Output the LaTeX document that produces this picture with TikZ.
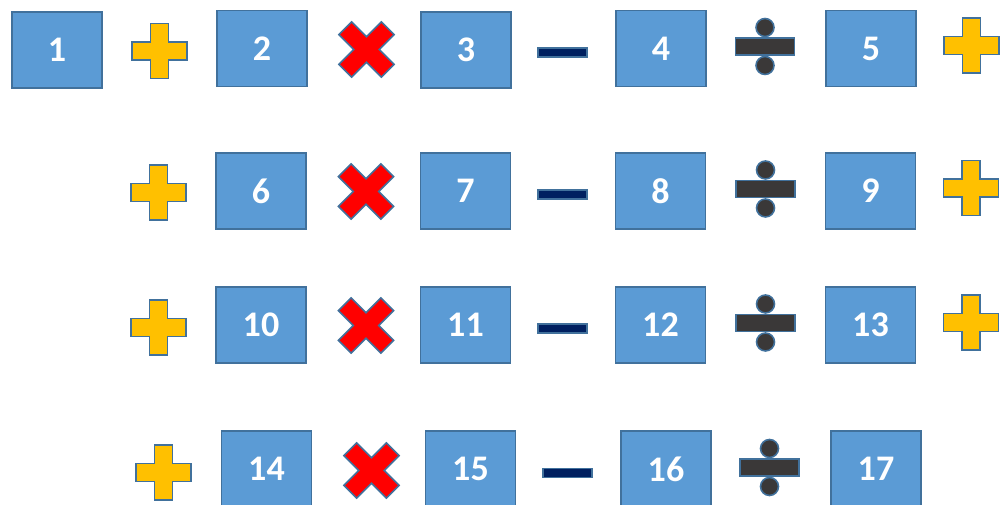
\documentclass[tikz,border=0pt]{standalone}
\usepackage{fontspec}
\setmainfont{Carlito}
\usepackage{xcolor}
\usepackage{tikz}
\definecolor{boxfill}{HTML}{5B9BD5}
\definecolor{boxline}{HTML}{41719C}
\definecolor{plusfill}{HTML}{FFC000}
\definecolor{crossfill}{HTML}{FF0000}
\definecolor{minusfill}{HTML}{002060}
\definecolor{dividefill}{HTML}{3A3838}

\begin{document}
\begin{tikzpicture}[
    x=0.2mm, y=-0.2mm,
    numbox/.style={
        draw=boxline,
        fill=boxfill,
        line width=1.1pt,
        minimum width=18mm,
        minimum height=15.2mm,
        inner sep=0pt,
        text=white,
        font=\fontsize{20.5}{24}\selectfont\bfseries
    },
    opsign/.style={draw=boxline, line width=0.9pt},
    plussign/.pic={
        \path[opsign, fill=plusfill] (27.5,9) -- (9,9) -- (9,27.5) -- (-9,27.5) -- (-9,9) -- (-27.5,9)
            -- (-27.5,-9) -- (-9,-9) -- (-9,-27.5) -- (9,-27.5) -- (9,-9) -- (27.5,-9) -- cycle;
    },
    crosssign/.pic={
        \path[opsign, fill=crossfill, rotate=45] (30,9) -- (9,9) -- (9,30) -- (-9,30) -- (-9,9) -- (-30,9)
            -- (-30,-9) -- (-9,-9) -- (-9,-30) -- (9,-30) -- (9,-9) -- (30,-9) -- cycle;
    },
    minussign/.pic={
        \path[opsign, fill=minusfill] (-24.5,-4.5) rectangle (24.5,4.5);
    },
    dividesign/.pic={
        \path[opsign, fill=dividefill] (-29.5,-8.5) rectangle (29.5,8.5);
        \path[opsign, fill=dividefill] (0,-19) circle[radius=1.8mm];
        \path[opsign, fill=dividefill] (0,19) circle[radius=1.8mm];
    }
]
\useasboundingbox (0,0) rectangle (1001,505);

% Row 1
\node[numbox] (n1) at (57,50) {1};
\pic at (159.5,51) {plussign};
\node[numbox] (n2) at (262,48.5) {2};
\pic at (366.5,49.5) {crosssign};
\node[numbox] (n3) at (466,50) {3};
\pic at (562.5,52.5) {minussign};
\node[numbox] (n4) at (661,48.5) {4};
\pic at (765,46.5) {dividesign};
\node[numbox] (n5) at (871,48.5) {5};
\pic at (971.5,45.5) {plussign};

% Row 2
\pic at (158.5,192.5) {plussign};
\node[numbox] (n6) at (261,191) {6};
\pic at (366,191.5) {crosssign};
\node[numbox] (n7) at (465.5,191) {7};
\pic at (562.5,194.5) {minussign};
\node[numbox] (n8) at (660.5,191) {8};
\pic at (765.5,189) {dividesign};
\node[numbox] (n9) at (870.5,191) {9};
\pic at (971,188) {plussign};

% Row 3
\pic at (158.5,327.5) {plussign};
\node[numbox] (n10) at (261,325) {10};
\pic at (366,325.5) {crosssign};
\node[numbox] (n11) at (465.5,325) {11};
\pic at (562.5,328.5) {minussign};
\node[numbox] (n12) at (660.5,325) {12};
\pic at (765.5,323) {dividesign};
\node[numbox] (n13) at (870.5,325) {13};
\pic at (971,322.5) {plussign};

% Row 4 (runs off the bottom edge)
\pic at (163.5,472.5) {plussign};
\node[numbox] (n14) at (266.5,469) {14};
\pic at (371.5,470.5) {crosssign};
\node[numbox] (n15) at (470.5,469) {15};
\pic at (567.5,473) {minussign};
\node[numbox] (n16) at (666,469) {16};
\pic at (769.5,467.5) {dividesign};
\node[numbox] (n17) at (876,469) {17};

\end{tikzpicture}
\end{document}
